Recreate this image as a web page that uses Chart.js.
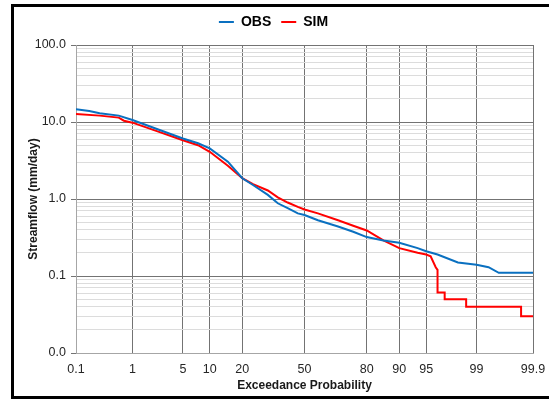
<!DOCTYPE html>
<html>
<head>
<meta charset="utf-8">
<script src="https://cdn.jsdelivr.net/npm/chart.js@4"></script>
<style>
  html, body { margin: 0; padding: 0; background: #fff; overflow: hidden; }
  canvas { display: block; }
</style>
</head>
<body>
<canvas id="fdc" width="549" height="400"></canvas>
<script>
// flow duration curves, exceedance probability in percent
const obsProb = [0.1, 0.18, 0.28, 0.6, 1, 2.4, 5, 7.5, 10, 15, 20, 24.3, 31, 35.9, 41, 46.4, 50, 57.2, 67.5, 74.5, 80, 85.7, 90, 93.7, 95, 96.4, 98.1, 99, 99.36, 99.57, 99.9];
const obsFlow = [14.7, 13.9, 13.0, 12.1, 10.6, 8.0, 6.1, 5.3, 4.55, 3.05, 1.86, 1.52, 1.13, 0.88, 0.76, 0.65, 0.62, 0.53, 0.44, 0.376, 0.32, 0.29, 0.27, 0.23, 0.21, 0.19, 0.15, 0.14, 0.13, 0.11, 0.11];

const simProb = [0.1, 0.28, 0.6, 0.73, 1, 2.4, 5, 7.5, 10, 15, 20, 24.3, 31, 35.9, 41, 46.4, 50, 57.2, 67.5, 74.5, 80, 85.7, 90, 93.7, 95, 95.6, 96.2, 96.4, 96.4, 97.1, 97.1, 98.56, 98.56, 99.83, 99.83, 99.9];
const simFlow = [12.7, 12.1, 11.4, 10.4, 9.8, 7.5, 5.8, 5.0, 4.1, 2.7, 1.86, 1.56, 1.29, 1.05, 0.9, 0.79, 0.73, 0.65, 0.53, 0.45, 0.39, 0.29, 0.23, 0.20, 0.19, 0.18, 0.13, 0.12, 0.061, 0.061, 0.05, 0.05, 0.04, 0.04, 0.03, 0.03];

const xTicks = [0.1, 1, 5, 10, 20, 50, 80, 90, 95, 99, 99.9];
const xTickLabels = ['0.1', '1', '5', '10', '20', '50', '80', '90', '95', '99', '99.9'];

const font = 'Liberation Sans, Arial, sans-serif';

// inverse normal CDF (Acklam), used to put the x axis on a probability scale
function probit(p) {
  const a = [-3.969683028665376e+01, 2.209460984245205e+02, -2.759285104469687e+02, 1.383577518672690e+02, -3.066479806614716e+01, 2.506628277459239e+00];
  const b = [-5.447609879822406e+01, 1.615858368580409e+02, -1.556989798598866e+02, 6.680131188771972e+01, -1.328068155288572e+01];
  const c = [-7.784894002430293e-03, -3.223964580411365e-01, -2.400758277161838e+00, -2.549671534584985e+00, 4.374664141464968e+00, 2.938163982698783e+00];
  const d = [7.784695709041462e-03, 3.224671290700398e-01, 2.445134137142996e+00, 3.754408661907416e+00];
  const plow = 0.02425;
  let q, r;
  if (p < plow) {
    q = Math.sqrt(-2 * Math.log(p));
    return (((((c[0]*q+c[1])*q+c[2])*q+c[3])*q+c[4])*q+c[5]) / ((((d[0]*q+d[1])*q+d[2])*q+d[3])*q+1);
  }
  if (p <= 1 - plow) {
    q = p - 0.5; r = q * q;
    return (((((a[0]*r+a[1])*r+a[2])*r+a[3])*r+a[4])*r+a[5])*q / (((((b[0]*r+b[1])*r+b[2])*r+b[3])*r+b[4])*r+1);
  }
  q = Math.sqrt(-2 * Math.log(1 - p));
  return -(((((c[0]*q+c[1])*q+c[2])*q+c[3])*q+c[4])*q+c[5]) / ((((d[0]*q+d[1])*q+d[2])*q+d[3])*q+1);
}
const z = pct => probit(pct / 100);

const isDecade = v => Math.abs(Math.log10(v) - Math.round(Math.log10(v))) < 1e-9;

// black outline around the chart (open on the right)
const outline = {
  id: 'outline',
  beforeDraw(chart) {
    const ctx = chart.ctx;
    ctx.save();
    ctx.fillStyle = '#000';
    ctx.fillRect(11, 4, chart.width - 11, 3);
    ctx.fillRect(11, 4, 3, 395);
    ctx.fillRect(11, 396, chart.width - 11, 3);
    ctx.restore();
  }
};

new Chart(document.getElementById('fdc'), {
  type: 'line',
  data: {
    datasets: [
      {
        label: 'OBS',
        data: obsProb.map((p, i) => ({ x: z(p), y: obsFlow[i] })),
        borderColor: '#0a70c0',
        backgroundColor: '#0a70c0',
        borderWidth: 2,
        pointRadius: 0,
        tension: 0
      },
      {
        label: 'SIM',
        data: simProb.map((p, i) => ({ x: z(p), y: simFlow[i] })),
        borderColor: '#ff0000',
        backgroundColor: '#ff0000',
        borderWidth: 2,
        pointRadius: 0,
        tension: 0
      }
    ]
  },
  plugins: [outline],
  options: {
    responsive: false,
    animation: false,
    layout: { padding: { left: 14, right: 16, top: 5, bottom: 5 } },
    plugins: {
      legend: {
        labels: {
          usePointStyle: true,
          pointStyle: 'line',
          pointStyleWidth: 15,
          boxHeight: 14,
          padding: 10,
          color: '#000',
          font: { family: font, size: 14, weight: 'bold' }
        }
      },
      tooltip: { enabled: false }
    },
    scales: {
      x: {
        type: 'linear',
        min: z(0.1),
        max: z(99.9),
        afterBuildTicks: s => { s.ticks = xTicks.map(p => ({ value: z(p) })); },
        afterFit: s => { s.height = 42; s.paddingLeft = 0; s.paddingRight = 0; },
        ticks: {
          autoSkip: false,
          maxRotation: 0,
          padding: 9,
          color: '#262626',
          font: { family: font, size: 12.5 },
          callback: (v, i) => xTickLabels[i]
        },
        grid: { color: '#737373', drawTicks: false },
        border: { color: '#a6a6a6' },
        title: {
          display: true,
          text: 'Exceedance Probability',
          color: '#1a1a1a',
          font: { family: font, size: 12, weight: 'bold' },
          padding: { top: 0, bottom: 2 }
        }
      },
      // empty strip between the legend and the plot
      gap: {
        type: 'linear',
        position: 'top',
        display: true,
        afterFit: s => { s.height = 6; s.paddingLeft = 0; s.paddingRight = 0; },
        ticks: { display: false },
        grid: { display: false, drawTicks: false },
        border: { display: false }
      },
      y: {
        type: 'logarithmic',
        min: 0.01,
        max: 100,
        afterBuildTicks: s => {
          const t = [];
          for (let e = -2; e < 2; e++) {
            for (let m = 1; m < 10; m++) t.push({ value: m * Math.pow(10, e) });
          }
          t.push({ value: 100 });
          s.ticks = t;
        },
        afterFit: s => { s.width = 62; },
        ticks: {
          autoSkip: false,
          padding: 5,
          color: '#262626',
          font: { family: font, size: 12.5 },
          callback: v => isDecade(v) ? v.toFixed(1) : ''
        },
        grid: {
          color: ctx => isDecade(ctx.tick.value) ? '#737373' : '#dcdcdc',
          tickColor: ctx => isDecade(ctx.tick.value) ? '#737373' : 'rgba(0,0,0,0)',
          tickLength: 5
        },
        border: { color: '#a6a6a6' },
        title: {
          display: true,
          text: 'Streamflow (mm/day)',
          color: '#1a1a1a',
          font: { family: font, size: 12, weight: 'bold' },
          padding: { top: 12, bottom: 0 }
        }
      }
    }
  }
});
</script>
</body>
</html>
